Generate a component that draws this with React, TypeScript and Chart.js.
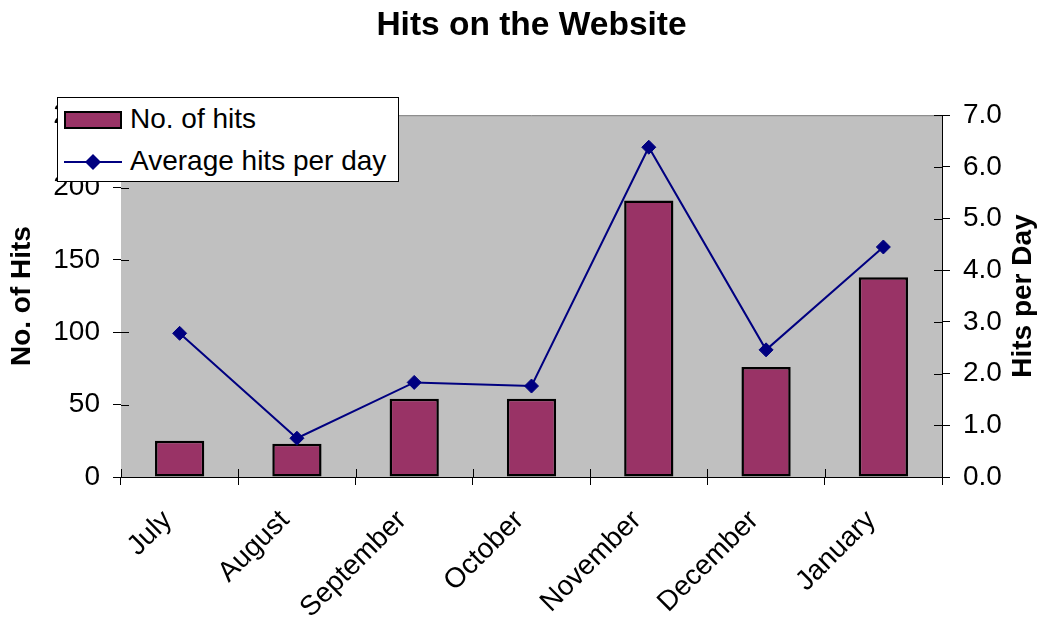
import React, { useEffect, useRef } from "react";
import { Chart, registerables } from "chart.js";

Chart.register(...registerables);

const chartTitle = "Hits on the Website";
const months = ["July", "August", "September", "October", "November", "December", "January"];
const hitsLabel = "No. of hits";
const hits = [25, 23, 54, 54, 191, 76, 138];
const avgLabel = "Average hits per day";
const avgPerDay = [2.78, 0.75, 1.83, 1.76, 6.38, 2.46, 4.45];
const leftAxisTitle = "No. of Hits";
const rightAxisTitle = "Hits per Day";
const leftTicks = { min: 0, max: 250, step: 50 };
const rightTicks = { min: 0, max: 7, step: 1 };

const FONT = "'Liberation Sans', Arial, sans-serif";
const BAR_COLOR = "#993366";
const LINE_COLOR = "#000080";
const W = 1048;
const H = 619;

const plotPlugin = {
  id: "plotDecor",
  beforeDatasetsDraw(chart: any) {
    const { ctx, chartArea } = chart;
    ctx.save();
    ctx.fillStyle = "#C0C0C0";
    ctx.fillRect(chartArea.left, chartArea.top, chartArea.right - chartArea.left, chartArea.bottom - chartArea.top);
    ctx.strokeStyle = "#808080";
    ctx.lineWidth = 1;
    ctx.beginPath();
    ctx.moveTo(chartArea.left, chartArea.top + 0.5);
    ctx.lineTo(chartArea.right, chartArea.top + 0.5);
    ctx.stroke();
    ctx.restore();
  },
  afterDraw(chart: any) {
    const { ctx, chartArea, scales } = chart;
    const len = 8;
    ctx.save();
    ctx.strokeStyle = "#000";
    ctx.lineWidth = 1;
    ctx.beginPath();
    const y = scales.y;
    y.ticks.forEach((_t: any, i: number) => {
      const py = Math.round(y.getPixelForTick(i)) + 0.5;
      ctx.moveTo(chartArea.left, py);
      ctx.lineTo(chartArea.left + len, py);
    });
    const y1 = scales.y1;
    y1.ticks.forEach((_t: any, i: number) => {
      const py = Math.round(y1.getPixelForTick(i)) + 0.5;
      ctx.moveTo(chartArea.right, py);
      ctx.lineTo(chartArea.right - len, py);
    });
    const x = scales.x;
    const n = x.ticks.length;
    const step = n > 1 ? x.getPixelForTick(1) - x.getPixelForTick(0) : 0;
    for (let i = 0; i <= n; i++) {
      const px = Math.round(x.getPixelForTick(0) - step / 2 + i * step) + 0.5;
      ctx.moveTo(px, chartArea.bottom);
      ctx.lineTo(px, chartArea.bottom - len);
    }
    ctx.stroke();

    // right axis title, reading bottom-to-top
    ctx.translate(1023, (chartArea.top + chartArea.bottom) / 2);
    ctx.rotate(-Math.PI / 2);
    ctx.fillStyle = "#000";
    ctx.font = `bold 28px ${FONT}`;
    ctx.textAlign = "center";
    ctx.textBaseline = "middle";
    ctx.fillText(rightAxisTitle, 0, 0);
    ctx.restore();
  },
};

export default function App() {
  const canvasRef = useRef<HTMLCanvasElement | null>(null);

  useEffect(() => {
    const canvas = canvasRef.current;
    if (!canvas) return;
    const chart = new Chart(canvas, {
      type: "bar",
      data: {
        labels: months,
        datasets: [
          {
            type: "line",
            label: avgLabel,
            data: avgPerDay,
            yAxisID: "y1",
            borderColor: LINE_COLOR,
            backgroundColor: LINE_COLOR,
            borderWidth: 2,
            pointStyle: "rectRot",
            pointRadius: 7,
            pointBorderWidth: 1,
            pointBackgroundColor: LINE_COLOR,
            pointBorderColor: LINE_COLOR,
            tension: 0,
            order: 0,
          } as any,
          {
            type: "bar",
            label: hitsLabel,
            data: hits,
            yAxisID: "y",
            backgroundColor: BAR_COLOR,
            borderColor: "#000",
            borderWidth: 2.5,
            borderSkipped: false,
            categoryPercentage: 1,
            barPercentage: 0.42,
            order: 1,
          } as any,
        ],
      },
      options: {
        animation: false,
        responsive: false,
        devicePixelRatio: 1,
        layout: { padding: 0 },
        plugins: {
          legend: { display: false },
          tooltip: { enabled: false },
          title: {
            display: true,
            fullSize: false,
            text: chartTitle,
            color: "#000",
            font: { family: FONT, size: 33.5, weight: "bold", lineHeight: 1.2 },
            padding: { top: 6, bottom: 69 },
          },
        },
        scales: {
          x: {
            grid: { display: true, drawOnChartArea: false, drawTicks: true, tickLength: 8, color: "#000", offset: true },
            border: { display: true, color: "#000", width: 1 },
            ticks: {
              color: "#000",
              font: { family: FONT, size: 28 },
              minRotation: 45,
              maxRotation: 45,
              autoSkip: false,
              padding: 19,
              labelOffset: -12,
            },
            afterFit(scale: any) {
              scale.height = 142;
            },
          },
          y: {
            position: "left",
            min: leftTicks.min,
            max: leftTicks.max,
            grid: { display: true, drawOnChartArea: false, drawTicks: true, tickLength: 8, color: "#000" },
            border: { display: true, color: "#000", width: 1 },
            ticks: {
              stepSize: leftTicks.step,
              color: "#000",
              font: { family: FONT, size: 28 },
              padding: 13,
            },
            title: {
              display: true,
              text: leftAxisTitle,
              color: "#000",
              font: { family: FONT, size: 28, weight: "bold", lineHeight: 1 },
              padding: { top: 8, bottom: 0 },
            },
            afterFit(scale: any) {
              scale.width = 121;
            },
          },
          y1: {
            position: "right",
            min: rightTicks.min,
            max: rightTicks.max,
            grid: { display: true, drawOnChartArea: false, drawTicks: true, tickLength: 8, color: "#000" },
            border: { display: true, color: "#000", width: 1 },
            ticks: {
              stepSize: rightTicks.step,
              color: "#000",
              font: { family: FONT, size: 28 },
              padding: 13,
              callback: (v: any) => Number(v).toFixed(1),
            },
            afterFit(scale: any) {
              scale.width = 106;
            },
          },
        },
      } as any,
      plugins: [plotPlugin],
    });
    return () => chart.destroy();
  }, []);

  const textStyle: React.CSSProperties = {
    position: "absolute",
    left: 72,
    fontFamily: FONT,
    fontSize: 28,
    lineHeight: "32px",
    color: "#000",
    whiteSpace: "nowrap",
  };

  return (
    <div style={{ position: "fixed", left: 0, top: 0, width: W, height: H, background: "#fff" }}>
      <canvas ref={canvasRef} width={W} height={H} style={{ display: "block", width: W, height: H }} />
      <div
        style={{
          position: "absolute",
          left: 57,
          top: 97,
          width: 342,
          height: 85,
          boxSizing: "border-box",
          background: "#fff",
          border: "1px solid #000",
        }}
      >
        <div
          style={{
            position: "absolute",
            left: 6,
            top: 13,
            width: 58,
            height: 18,
            boxSizing: "border-box",
            background: BAR_COLOR,
            border: "2px solid #000",
          }}
        />
        <div style={{ ...textStyle, top: 5 }}>{hitsLabel}</div>
        <svg style={{ position: "absolute", left: 6, top: 54 }} width={60} height={20}>
          <line x1={0} y1={10} x2={58} y2={10} stroke={LINE_COLOR} strokeWidth={2} />
          <polygon points="29,2 37,10 29,18 21,10" fill={LINE_COLOR} />
        </svg>
        <div style={{ ...textStyle, top: 47 }}>{avgLabel}</div>
      </div>
    </div>
  );
}
